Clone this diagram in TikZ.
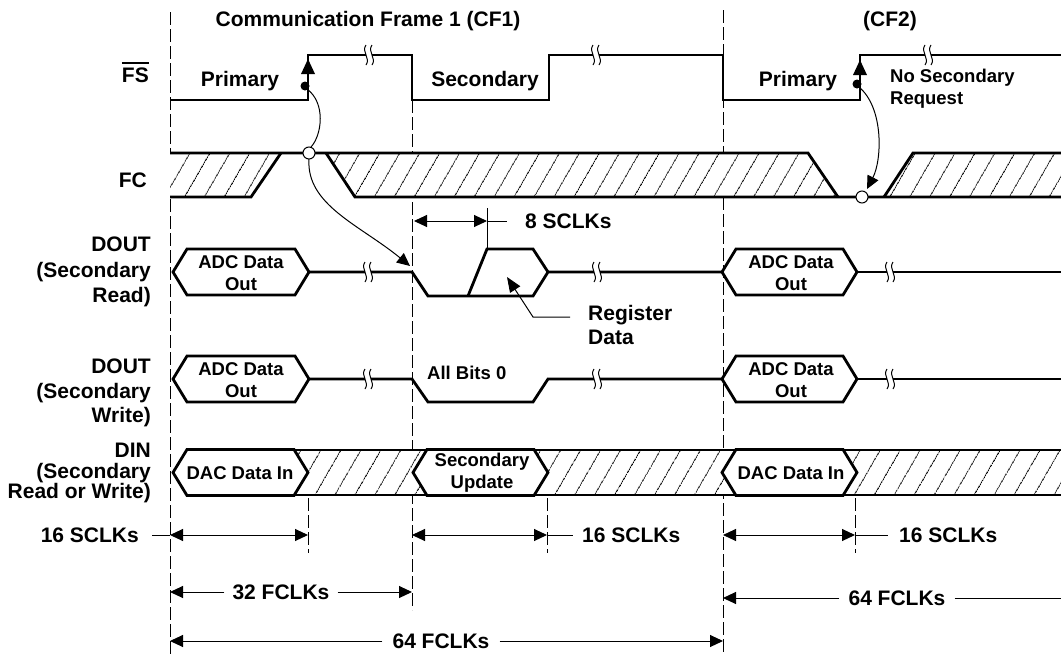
\documentclass[tikz,border=0pt]{standalone}
\usepackage{fontspec}
\setmainfont{Liberation Sans}
\usepackage{tikz}
\usetikzlibrary{arrows.meta,patterns.meta}

% hexagonal data slot: left tip, right tip, centre line
\newcommand\hexa[3]{%
  \filldraw[sig,fill=white] (#1,#3) -- (#1+14,#3-23) -- (#2-14,#3-23) -- (#2,#3)
    -- (#2-14,#3+23) -- (#1+14,#3+23) -- cycle;}
% break mark on a waveform
\newcommand\brk[2]{%
  \fill[white] (#1-3,#2-4) rectangle (#1+3,#2+4);
  \draw[thinline] (#1-3,#2-10) .. controls (#1-8,#2-3) and (#1+2,#2+3) .. (#1-3,#2+10);
  \draw[thinline] (#1+3,#2-10) .. controls (#1-2,#2-3) and (#1+8,#2+3) .. (#1+3,#2+10);}
\newcommand\ovl[1]{\vbox{\hrule height 2pt\kern 4pt\hbox{#1}}}

\begin{document}
\begin{tikzpicture}[x=1pt,y=-1pt,
    sig/.style={line width=2.8pt},
    thinline/.style={line width=1pt},
    frameline/.style={line width=0.9pt,dash pattern=on 13pt off 4pt},
    hatch/.style={preaction={fill=white},pattern={Lines[angle=60,distance=17pt,line width=0.9pt]}},
    dimarrow/.style={line width=1pt,{Triangle[length=13pt,width=12pt]}-{Triangle[length=13pt,width=12pt]}},
    tip/.style={line width=1pt,-{Triangle[length=13pt,width=12pt]}},
    lbltxt/.style={font=\fontsize{21}{25}\selectfont\bfseries,inner sep=0pt},
    wavetxt/.style={font=\fontsize{18.5}{22}\selectfont\bfseries,inner sep=0pt,align=center}]
    \useasboundingbox (0,0) rectangle (1061,654);
    %frame lines
    \draw[frameline] (170,12) -- (170,654);
    \draw[frameline] (412,100) -- (412,610);
    \draw[frameline] (723,10) -- (723,654);
    \draw[frameline] (308,498) -- (308,553);
    \draw[frameline] (547,498) -- (547,553);
    \draw[frameline] (855,498) -- (855,553);
    %FC
    \fill[hatch] (170,153) -- (281,153) -- (251,197) -- (170,197) -- cycle;
    \fill[hatch] (326,153) -- (808,153) -- (838,197) -- (355,197) -- cycle;
    \fill[hatch] (884,197) -- (913,153) -- (1061,153) -- (1061,197) -- cycle;
    \draw[sig] (170,153) -- (808,153) -- (838,197);
    \draw[sig] (170,197) -- (251,197) -- (281,153);
    \draw[sig] (326,153) -- (355,197) -- (1061,197);
    \draw[sig] (884,197) -- (913,153) -- (1061,153);
    %FS
    \draw[sig] (170,100) -- (308,100) -- (308,55) -- (412,55) -- (412,100) -- (549,100)
      -- (549,55) -- (723,55) -- (723,100) -- (860,100) -- (860,55) -- (1061,55);
    \brk{369}{55} \brk{596}{55} \brk{928}{55}
    \fill (301,74) -- (308,59) -- (315,74) -- cycle;
    \fill (305,86) circle (4.5);
    \fill (853,75) -- (860,60) -- (867,75) -- cycle;
    \fill (857,84) circle (4.5);
    %DOUT read
    \hexa{173}{309}{272}
    \draw[sig] (309,272) -- (412,272) -- (428,296) -- (533,296) -- (548,272) -- (722,272);
    \draw[sig] (468,296) -- (487,249) -- (533,249) -- (548,272);
    \hexa{722}{857}{272}
    \draw[sig] (857,272) -- (1061,272);
    \brk{368}{272} \brk{597}{272} \brk{890}{272}
    %DOUT write
    \hexa{173}{309}{379}
    \draw[sig] (309,379) -- (412,379) -- (428,402) -- (533,402) -- (548,379) -- (722,379);
    \hexa{722}{857}{379}
    \draw[sig] (857,379) -- (1061,379);
    \brk{368}{379} \brk{597}{379} \brk{890}{379}
    %DIN
    \fill[hatch] (295,450) rectangle (1061,495);
    \draw[sig] (187,450) -- (1061,450);
    \draw[sig] (187,495) -- (1061,495);
    \hexa{173}{308}{472.5}
    \hexa{413}{548}{472.5}
    \hexa{722}{857}{472.5}
    %links between edges
    \draw[thinline,fill=white] (309,153) circle (6);
    \draw[thinline,fill=white] (862,197) circle (6);
    \draw[thinline] (307,89) .. controls (326,103) and (322,135) .. (311,147);
    \draw[tip] (309,159) .. controls (306,205) and (360,225) .. (410,266);
    \draw[tip] (859,87) .. controls (884,108) and (882,160) .. (867,189);
    %labels
    \node[lbltxt] (title) at (368,21) {Communication Frame 1 (CF1)};
    \node[lbltxt] (cf2) at (890,21) {(CF2)};
    \node[lbltxt,anchor=east] (lblFS) at (149,72) {\ovl{FS}};
    \node[lbltxt,anchor=east] (lblFC) at (147,180) {FC};
    \node[lbltxt,anchor=east,align=right,font=\fontsize{21}{25.5}\selectfont\bfseries] (lblDR) at (151,272) {DOUT\\(Secondary\\Read)};
    \node[lbltxt,anchor=east,align=right,font=\fontsize{21}{24.5}\selectfont\bfseries] (lblDW) at (151,393) {DOUT\\(Secondary\\Write)};
    \node[lbltxt,anchor=east,align=right,font=\fontsize{21}{20.5}\selectfont\bfseries] (lblDIN) at (151,473) {DIN\\(Secondary\\Read or Write)};
    \node[lbltxt] (priA) at (240,81) {Primary};
    \node[lbltxt] (secA) at (485,81) {Secondary};
    \node[lbltxt] (priB) at (798,81) {Primary};
    \node[wavetxt,anchor=west,align=left] (nosec) at (890,89) {No Secondary\\Request};
    \node[wavetxt] (adcA) at (241,273) {ADC Data\\Out};
    \node[wavetxt] (adcB) at (791,273) {ADC Data\\Out};
    \node[wavetxt] (adcC) at (241,380) {ADC Data\\Out};
    \node[wavetxt] (adcD) at (791,380) {ADC Data\\Out};
    \node[wavetxt] (dacA) at (240,473) {DAC Data In};
    \node[wavetxt] (secupd) at (482,473) {Secondary\\Update};
    \node[wavetxt] (dacB) at (791,473) {DAC Data In};
    \node[wavetxt,anchor=west] (allzero) at (427,373) {All Bits 0};
    %8 SCLKs and register data
    \coordinate (e1) at (414,221);
    \coordinate (e2) at (487,221);
    \coordinate (e3) at (507,221);
    \draw[dimarrow] (e1) -- (e2);
    \draw[thinline] (e2) -- (e3);
    \draw[thinline] (487,208) -- (487,249);
    \node[lbltxt,anchor=west] (sclk8) at (525,221) {8 SCLKs};
    \node[lbltxt,anchor=west,align=left,font=\fontsize{21}{24}\selectfont\bfseries] (regdat) at (588,325) {Register\\Data};
    \coordinate (r1) at (570,317);
    \coordinate (r2) at (533,317);
    \coordinate (r3) at (507,277);
    \draw[tip,-{Triangle[length=15pt,width=12pt]}] (r1) -- (r2) -- (r3);
    %16 SCLKs
    \coordinate (sA0) at (152,535);
    \coordinate (sA1) at (170,535);
    \coordinate (sA2) at (308,535);
    \coordinate (sB1) at (412,535);
    \coordinate (sB2) at (547,535);
    \coordinate (sB3) at (573,535);
    \coordinate (sC1) at (723,535);
    \coordinate (sC2) at (855,535);
    \coordinate (sC3) at (888,535);
    \node[lbltxt,anchor=east] (sclkA) at (139,535) {16 SCLKs};
    \node[lbltxt,anchor=west] (sclkB) at (582,535) {16 SCLKs};
    \node[lbltxt,anchor=west] (sclkC) at (899,535) {16 SCLKs};
    \draw[thinline] (sA0) -- (sA1);
    \draw[dimarrow] (sA1) -- (sA2);
    \draw[dimarrow] (sB1) -- (sB2);
    \draw[thinline] (sB2) -- (sB3);
    \draw[dimarrow] (sC1) -- (sC2);
    \draw[thinline] (sC2) -- (sC3);
    %FCLKs
    \coordinate (fA1) at (170,592);
    \coordinate (fA2) at (412,592);
    \coordinate (fB1) at (723,598);
    \coordinate (fB2) at (1061,598);
    \coordinate (fC1) at (170,641);
    \coordinate (fC2) at (723,641);
    \node[lbltxt,inner xsep=8pt] (fclkA) at (281,592) {32 FCLKs};
    \node[lbltxt,inner xsep=9pt] (fclkB) at (897,598) {64 FCLKs};
    \node[lbltxt,inner xsep=10pt] (fclkC) at (441,641) {64 FCLKs};
    \draw[tip] (fclkA.west) -- (fA1);
    \draw[tip] (fclkA.east) -- (fA2);
    \draw[tip] (fclkB.west) -- (fB1);
    \draw[thinline] (fclkB.east) -- (fB2);
    \draw[tip] (fclkC.west) -- (fC1);
    \draw[tip] (fclkC.east) -- (fC2);
\end{tikzpicture}
\end{document}
